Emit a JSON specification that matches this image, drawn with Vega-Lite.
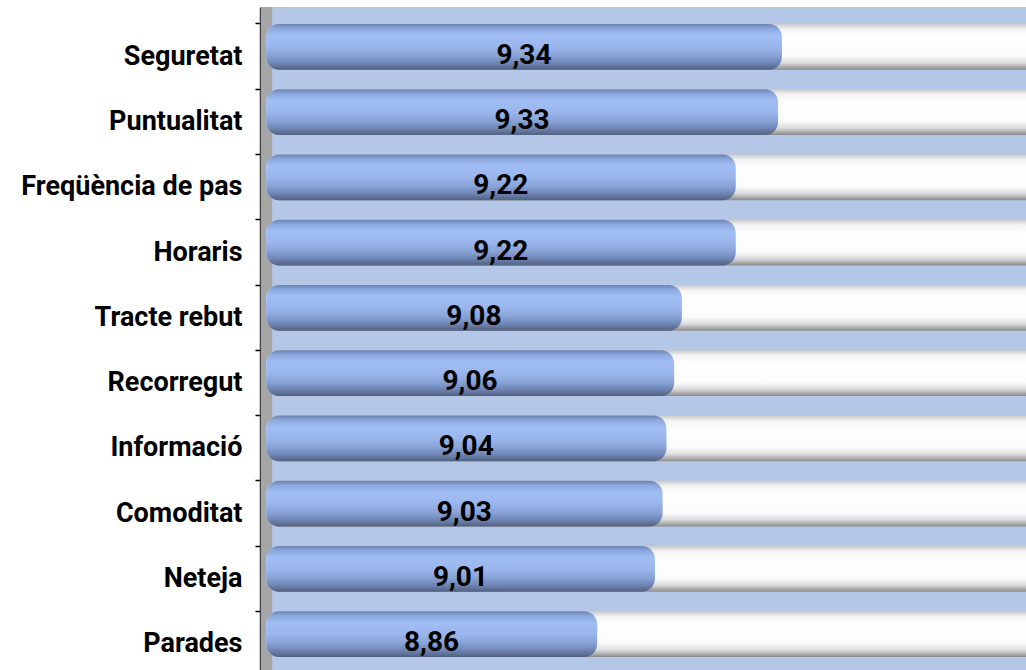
{
  "$schema": "https://vega.github.io/schema/vega-lite/v6.json",
  "width": 766,
  "height": 663,
  "autosize": {"type": "none"},
  "padding": {"left": 260, "top": 7, "right": 0, "bottom": 0},
  "background": "white",
  "config": {
    "view": {"fill": "#b4c7e6", "stroke": null},
    "locale": {"number": {"decimal": ",", "thousands": ".", "grouping": [3], "currency": ["", " €"]}}
  },
  "data": {
    "values": [
      {"aspecte": "Seguretat", "valor": 9.34},
      {"aspecte": "Puntualitat", "valor": 9.33},
      {"aspecte": "Freqüència de pas", "valor": 9.22},
      {"aspecte": "Horaris", "valor": 9.22},
      {"aspecte": "Tracte rebut", "valor": 9.08},
      {"aspecte": "Recorregut", "valor": 9.06},
      {"aspecte": "Informació", "valor": 9.04},
      {"aspecte": "Comoditat", "valor": 9.03},
      {"aspecte": "Neteja", "valor": 9.01},
      {"aspecte": "Parades", "valor": 8.86}
    ]
  },
  "resolve": {"scale": {"x": "independent"}},
  "layer": [
    {
      "data": {"values": [{}]},
      "mark": {"type": "rect", "fill": "#a6a6a6"},
      "encoding": {
        "x": {"datum": 7.987, "type": "quantitative", "scale": {"domain": [7.984, 9.974], "nice": false, "zero": false}, "axis": null},
        "x2": {"datum": 8.0156}
      }
    },
    {
      "mark": {
        "type": "bar",
        "clip": true,
        "cornerRadius": 13,
        "color": {
          "gradient": "linear", "x1": 0, "y1": 0, "x2": 0, "y2": 1,
          "stops": [
            {"offset": 0, "color": "#c9c9c9"},
            {"offset": 0.12, "color": "#f4f4f4"},
            {"offset": 0.3, "color": "#ffffff"},
            {"offset": 0.7, "color": "#fbfbfb"},
            {"offset": 0.85, "color": "#dcdcdc"},
            {"offset": 1, "color": "#8a8a8a"}
          ]
        }
      },
      "encoding": {
        "y": {"field": "aspecte", "type": "nominal", "sort": null},
        "x": {"datum": 8, "type": "quantitative", "scale": {"domain": [7.984, 9.974], "nice": false, "zero": false}, "axis": null},
        "x2": {"datum": 10.1}
      }
    },
    {
      "mark": {
        "type": "bar",
        "clip": true,
        "cornerRadius": 13,
        "color": {
          "gradient": "linear", "x1": 0, "y1": 0, "x2": 0, "y2": 1,
          "stops": [
            {"offset": 0, "color": "#6c83b3"},
            {"offset": 0.1, "color": "#8ba7de"},
            {"offset": 0.25, "color": "#a1bef4"},
            {"offset": 0.5, "color": "#9ab6ec"},
            {"offset": 0.7, "color": "#88a2d6"},
            {"offset": 0.85, "color": "#6f86b6"},
            {"offset": 1, "color": "#52617e"}
          ]
        }
      },
      "encoding": {
        "y": {
          "field": "aspecte",
          "type": "nominal",
          "sort": null,
          "scale": {"range": [0, 667], "paddingInner": 0.3, "paddingOuter": 0.26},
          "axis": {
            "title": null,
            "bandPosition": 0,
            "domainColor": "#404040",
            "domainWidth": 1.5,
            "tickColor": "#000000",
            "tickSize": 5,
            "tickWidth": 1.5,
            "labelFont": "Roboto",
            "labelFontSize": 27,
            "labelFontWeight": "bold",
            "labelColor": "#000000",
            "labelPadding": 13,
            "labelOffset": 10,
            "labelLimit": 300,
            "labelBaseline": "middle"
          }
        },
        "x": {"field": "valor", "type": "quantitative", "scale": {"domain": [7.984, 9.974], "nice": false, "zero": false}, "axis": null},
        "x2": {"datum": 8}
      }
    },
    {
      "mark": {
        "type": "text",
        "font": "Roboto",
        "fontSize": 28,
        "fontWeight": "bold",
        "color": "#000000",
        "align": "center",
        "baseline": "middle",
        "dy": 9
      },
      "encoding": {
        "y": {"field": "aspecte", "type": "nominal", "sort": null},
        "x": {"field": "valor", "type": "quantitative", "scale": {"domain": [7.9688, 11.948], "nice": false, "zero": false}, "axis": null},
        "text": {"field": "valor", "type": "quantitative", "format": ".2f"}
      }
    }
  ]
}
